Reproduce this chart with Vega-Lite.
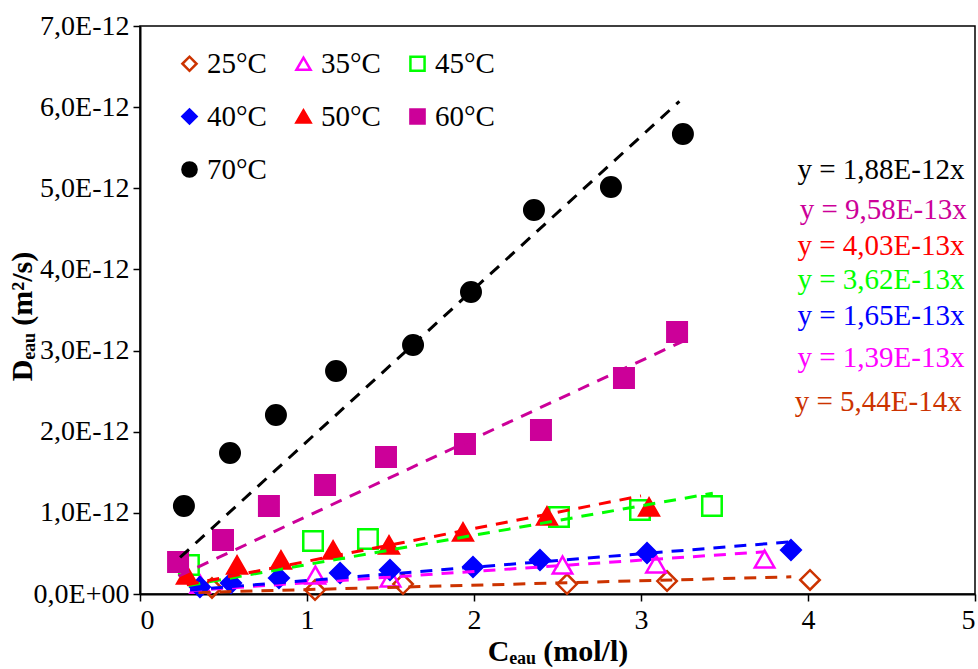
{
  "$schema": "https://vega.github.io/schema/vega-lite/v6.json",
  "width": 835,
  "height": 568,
  "autosize": {"type": "none"},
  "padding": {"left": 140, "top": 26, "right": 3, "bottom": 75},
  "background": "white",
  "config": {
    "view": {"stroke": "black", "strokeWidth": 1.5},
    "font": "Liberation Serif",
    "axis": {
      "grid": false,
      "domainColor": "black",
      "domainWidth": 2,
      "tickColor": "black",
      "tickWidth": 1.5,
      "tickSize": 7,
      "labelFont": "Liberation Serif",
      "labelFontSize": 28,
      "labelColor": "black",
      "titleFont": "Liberation Serif",
      "titleFontSize": 30,
      "titleFontWeight": "bold",
      "titleColor": "black"
    }
  },
  "datasets": {
    "points": [
      {"series": "25°C", "c": 0.431, "d": 0.074e-12},
      {"series": "25°C", "c": 1.048, "d": 0.049e-12},
      {"series": "25°C", "c": 1.575, "d": 0.123e-12},
      {"series": "25°C", "c": 2.557, "d": 0.123e-12},
      {"series": "25°C", "c": 3.156, "d": 0.160e-12},
      {"series": "25°C", "c": 4.012, "d": 0.173e-12},
      {"series": "35°C", "c": 0.36, "d": 0.12e-12},
      {"series": "35°C", "c": 1.05, "d": 0.234e-12},
      {"series": "35°C", "c": 1.50, "d": 0.197e-12},
      {"series": "35°C", "c": 2.53, "d": 0.357e-12},
      {"series": "35°C", "c": 3.09, "d": 0.37e-12},
      {"series": "35°C", "c": 3.74, "d": 0.431e-12},
      {"series": "45°C", "c": 0.293, "d": 0.357e-12},
      {"series": "45°C", "c": 1.036, "d": 0.653e-12},
      {"series": "45°C", "c": 1.365, "d": 0.678e-12},
      {"series": "45°C", "c": 2.509, "d": 0.949e-12},
      {"series": "45°C", "c": 2.994, "d": 1.035e-12},
      {"series": "45°C", "c": 3.425, "d": 1.085e-12},
      {"series": "40°C", "c": 0.359, "d": 0.086e-12},
      {"series": "40°C", "c": 0.545, "d": 0.136e-12},
      {"series": "40°C", "c": 0.832, "d": 0.197e-12},
      {"series": "40°C", "c": 1.198, "d": 0.259e-12},
      {"series": "40°C", "c": 1.497, "d": 0.296e-12},
      {"series": "40°C", "c": 1.994, "d": 0.333e-12},
      {"series": "40°C", "c": 2.395, "d": 0.419e-12},
      {"series": "40°C", "c": 3.036, "d": 0.505e-12},
      {"series": "40°C", "c": 3.898, "d": 0.542e-12},
      {"series": "50°C", "c": 0.281, "d": 0.234e-12},
      {"series": "50°C", "c": 0.581, "d": 0.357e-12},
      {"series": "50°C", "c": 0.844, "d": 0.419e-12},
      {"series": "50°C", "c": 1.156, "d": 0.542e-12},
      {"series": "50°C", "c": 1.491, "d": 0.604e-12},
      {"series": "50°C", "c": 1.934, "d": 0.764e-12},
      {"series": "50°C", "c": 2.437, "d": 0.961e-12},
      {"series": "50°C", "c": 3.048, "d": 1.072e-12},
      {"series": "60°C", "c": 0.228, "d": 0.394e-12},
      {"series": "60°C", "c": 0.497, "d": 0.666e-12},
      {"series": "60°C", "c": 0.772, "d": 1.085e-12},
      {"series": "60°C", "c": 1.108, "d": 1.343e-12},
      {"series": "60°C", "c": 1.473, "d": 1.688e-12},
      {"series": "60°C", "c": 1.946, "d": 1.849e-12},
      {"series": "60°C", "c": 2.401, "d": 2.021e-12},
      {"series": "60°C", "c": 2.898, "d": 2.662e-12},
      {"series": "60°C", "c": 3.216, "d": 3.229e-12},
      {"series": "70°C", "c": 0.263, "d": 1.085e-12},
      {"series": "70°C", "c": 0.539, "d": 1.738e-12},
      {"series": "70°C", "c": 0.814, "d": 2.206e-12},
      {"series": "70°C", "c": 1.174, "d": 2.748e-12},
      {"series": "70°C", "c": 1.635, "d": 3.069e-12},
      {"series": "70°C", "c": 1.982, "d": 3.722e-12},
      {"series": "70°C", "c": 2.359, "d": 4.733e-12},
      {"series": "70°C", "c": 2.820, "d": 5.016e-12},
      {"series": "70°C", "c": 3.251, "d": 5.669e-12}
    ],
    "fits": [
      {"series": "25°C", "c": 0.35, "d": 0.019e-12},
      {"series": "25°C", "c": 3.90, "d": 0.212e-12},
      {"series": "35°C", "c": 0.30, "d": 0.042e-12},
      {"series": "35°C", "c": 3.74, "d": 0.520e-12},
      {"series": "45°C", "c": 0.29, "d": 0.105e-12},
      {"series": "45°C", "c": 3.43, "d": 1.242e-12},
      {"series": "40°C", "c": 0.30, "d": 0.050e-12},
      {"series": "40°C", "c": 3.90, "d": 0.644e-12},
      {"series": "50°C", "c": 0.28, "d": 0.113e-12},
      {"series": "50°C", "c": 3.00, "d": 1.209e-12},
      {"series": "60°C", "c": 0.23, "d": 0.220e-12},
      {"series": "60°C", "c": 3.25, "d": 3.114e-12},
      {"series": "70°C", "c": 0.24, "d": 0.451e-12},
      {"series": "70°C", "c": 3.23, "d": 6.072e-12}
    ],
    "equations": [
      {"series": "70°C", "label": "y = 1,88E-12x", "c": 4.437, "d": 5.225e-12},
      {"series": "60°C", "label": "y = 9,58E-13x", "c": 4.45, "d": 4.733e-12},
      {"series": "50°C", "label": "y = 4,03E-13x", "c": 4.437, "d": 4.289e-12},
      {"series": "45°C", "label": "y = 3,62E-13x", "c": 4.437, "d": 3.87e-12},
      {"series": "40°C", "label": "y = 1,65E-13x", "c": 4.437, "d": 3.426e-12},
      {"series": "35°C", "label": "y = 1,39E-13x", "c": 4.437, "d": 2.909e-12},
      {"series": "25°C", "label": "y = 5,44E-14x", "c": 4.42, "d": 2.366e-12}
    ]
  },
  "encoding": {
    "x": {
      "field": "c", "type": "quantitative",
      "scale": {"domain": [0, 5], "nice": false, "zero": false},
      "axis": {"values": [0, 1, 2, 3, 4, 5], "format": "d", "title": "Cₑₐᵤ (mol/l)", "labelPadding": 5, "titlePadding": 2}
    },
    "y": {
      "field": "d", "type": "quantitative",
      "scale": {"domain": [0, 7e-12], "nice": false, "zero": false},
      "axis": {
        "values": [0, 1e-12, 2e-12, 3e-12, 4e-12, 5e-12, 6e-12, 7e-12],
        "labelExpr": "datum.value < 1e-15 ? '0,0E+00' : replace(format(datum.value * 1e12, '.1f'), '.', ',') + 'E-12'",
        "title": "Dₑₐᵤ (m²/s)",
        "labelPadding": 4,
        "titleX": -118,
        "titleY": 290,
        "titleBaseline": "middle",
        "titleAlign": "center",
        "titleAngle": -90
      }
    }
  },
  "layer": [
    {
      "data": {"name": "points"},
      "mark": {"type": "point", "opacity": 1, "strokeWidth": 2.5, "size": 380},
      "encoding": {
        "shape": {
          "field": "series", "type": "nominal",
          "scale": {
            "domain": ["25°C", "35°C", "45°C", "40°C", "50°C", "60°C", "70°C"],
            "range": ["diamond", "triangle-up", "square", "diamond", "triangle-up", "square", "circle"]
          },
          "legend": {
            "orient": "none", "legendX": 35, "legendY": 23, "columns": 3, "direction": "horizontal",
            "title": null, "labelFont": "Liberation Serif", "labelFontSize": 29, "labelColor": "black",
            "symbolSize": 200, "symbolStrokeWidth": 2.5, "columnPadding": 22, "rowPadding": 23,
            "labelOffset": 3, "gridAlign": "all", "padding": 0
          }
        },
        "stroke": {
          "field": "series", "type": "nominal",
          "scale": {
            "domain": ["25°C", "35°C", "45°C", "40°C", "50°C", "60°C", "70°C"],
            "range": ["#CC3300", "#FF00FF", "#00FF00", "#0000FF", "#FF0000", "#CC0099", "#000000"]
          }
        },
        "fill": {
          "field": "series", "type": "nominal",
          "scale": {
            "domain": ["25°C", "35°C", "45°C", "40°C", "50°C", "60°C", "70°C"],
            "range": ["transparent", "transparent", "transparent", "#0000FF", "#FF0000", "#CC0099", "#000000"]
          }
        }
      }
    },
    {
      "data": {"name": "fits"},
      "mark": {"type": "line", "strokeWidth": 3, "strokeDash": [12, 9]},
      "encoding": {
        "detail": {"field": "series", "type": "nominal"},
        "color": {
          "field": "series", "type": "nominal",
          "scale": {
            "domain": ["25°C", "35°C", "45°C", "40°C", "50°C", "60°C", "70°C"],
            "range": ["#CC3300", "#FF00FF", "#00FF00", "#0000FF", "#FF0000", "#CC0099", "#000000"]
          },
          "legend": null
        }
      }
    },
    {
      "data": {"name": "equations"},
      "mark": {"type": "text", "font": "Liberation Serif", "fontSize": 29, "align": "center", "baseline": "middle"},
      "encoding": {
        "text": {"field": "label"},
        "color": {
          "field": "series", "type": "nominal",
          "scale": {
            "domain": ["25°C", "35°C", "45°C", "40°C", "50°C", "60°C", "70°C"],
            "range": ["#CC3300", "#FF00FF", "#00FF00", "#0000FF", "#FF0000", "#CC0099", "#000000"]
          },
          "legend": null
        }
      }
    }
  ]
}
